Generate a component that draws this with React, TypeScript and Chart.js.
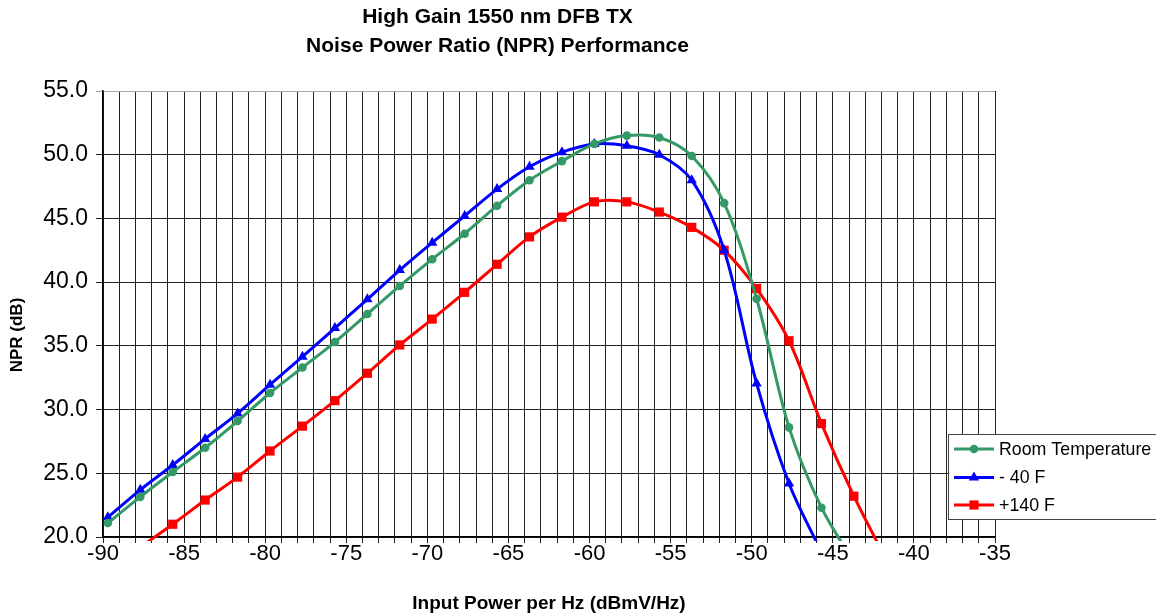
import React, { useEffect, useRef } from 'react';
import { Chart, registerables } from 'chart.js';

Chart.register(...registerables);

// ---- Data ----
const titleLines = ['High Gain 1550 nm DFB TX', 'Noise Power Ratio (NPR) Performance'];
const xAxisTitle = 'Input Power per Hz (dBmV/Hz)';
const yAxisTitle = 'NPR (dB)';
const seriesNames = ['Room Temperature', '- 40 F', '+140 F'];

const inputPower = [
  -89.7, -87.7, -85.7, -83.7, -81.7, -79.7, -77.7, -75.7, -73.7, -71.7, -69.7, -67.7, -65.7,
  -63.7, -61.7, -59.7, -57.7, -55.7, -53.7, -51.7, -49.7, -47.7, -45.7, -43.7, -41.7,
];
const roomTemp = [
  21.1, 23.15, 25.1, 27.0, 29.1, 31.3, 33.3, 35.3, 37.5, 39.7, 41.8, 43.8, 46.0,
  48.0, 49.5, 50.85, 51.5, 51.35, 49.9, 46.2, 38.7, 28.6, 22.3, 18.0, null,
];
const minus40F = [
  21.55, 23.7, 25.65, 27.7, 29.7, 31.95, 34.15, 36.4, 38.65, 40.95, 43.1, 45.2, 47.3,
  49.05, 50.2, 50.85, 50.7, 50.0, 48.0, 42.5, 32.05, 24.2, 18.8, null, null,
];
const plus140F = [
  null, 19.2, 21.0, 22.9, 24.7, 26.75, 28.7, 30.7, 32.85, 35.07, 37.1, 39.2, 41.4,
  43.55, 45.1, 46.3, 46.3, 45.5, 44.3, 42.5, 39.5, 35.4, 28.9, 23.2, 18.2,
];

const xMin = -90;
const xMax = -35;
const xGridStep = 1;
const xLabelEvery = 5;
const yMin = 20;
const yMax = 55;
const yStep = 5;

const FONT = '"Liberation Sans", Arial, Helvetica, sans-serif';

function toPoints(values: (number | null)[]) {
  const pts: { x: number; y: number }[] = [];
  values.forEach((v, i) => {
    if (v !== null) pts.push({ x: inputPower[i], y: v });
  });
  return pts;
}

function drawMarker(ctx: CanvasRenderingContext2D, style: string, x: number, y: number, r: number, color: string) {
  ctx.fillStyle = color;
  ctx.beginPath();
  if (style === 'circle') {
    ctx.arc(x, y, r, 0, Math.PI * 2);
  } else if (style === 'triangle') {
    let rad = 0;
    ctx.moveTo(x + Math.sin(rad) * r, y - Math.cos(rad) * r);
    rad += (2 * Math.PI) / 3;
    ctx.lineTo(x + Math.sin(rad) * r, y - Math.cos(rad) * r);
    rad += (2 * Math.PI) / 3;
    ctx.lineTo(x + Math.sin(rad) * r, y - Math.cos(rad) * r);
    ctx.closePath();
  } else {
    const s = r * Math.SQRT1_2;
    ctx.rect(x - s, y - s, 2 * s, 2 * s);
  }
  ctx.fill();
}

// Y axis title, placed as in the reference (slightly below the plot centre)
const yTitlePlugin = {
  id: 'yTitle',
  afterDraw(chart: any) {
    const ctx: CanvasRenderingContext2D = chart.ctx;
    const area = chart.chartArea;
    ctx.save();
    ctx.translate(17, (area.top + area.bottom) / 2 + 21);
    ctx.rotate(-Math.PI / 2);
    ctx.font = `bold 17px ${FONT}`;
    ctx.fillStyle = '#000000';
    ctx.textAlign = 'center';
    ctx.textBaseline = 'middle';
    ctx.fillText(yAxisTitle, 0, 0);
    ctx.restore();
  },
};

const boxLegend = {
  id: 'boxLegend',
  afterDraw(chart: any) {
    const ctx: CanvasRenderingContext2D = chart.ctx;
    const area = chart.chartArea;
    ctx.save();
    const bx = Math.round(area.right - 47) + 0.5;
    const by = 434.5;
    const bw = 230;
    const bh = 85;
    ctx.fillStyle = '#ffffff';
    ctx.fillRect(bx, by, bw, bh);
    ctx.strokeStyle = '#444444';
    ctx.lineWidth = 1;
    ctx.strokeRect(bx, by, bw, bh);
    const rowY = [449, 477.5, 505];
    chart.data.datasets.forEach((ds: any, i: number) => {
      const y = rowY[i];
      ctx.strokeStyle = ds.borderColor;
      ctx.lineWidth = 3;
      ctx.beginPath();
      ctx.moveTo(bx + 5.5, y);
      ctx.lineTo(bx + 45.5, y);
      ctx.stroke();
      drawMarker(ctx, ds.pointStyle, bx + 25.5, y, ds.pointRadius, ds.pointBackgroundColor);
      ctx.fillStyle = '#000000';
      ctx.font = `17.8px ${FONT}`;
      ctx.textBaseline = 'middle';
      ctx.textAlign = 'left';
      ctx.fillText(ds.label, bx + 50.5, y + 1);
    });
    ctx.restore();
  },
};

export default function App() {
  const canvasRef = useRef<HTMLCanvasElement | null>(null);

  useEffect(() => {
    const canvas = canvasRef.current;
    if (!canvas) return;
    Chart.defaults.font.family = FONT;
    Chart.defaults.color = '#000000';

    const mk = (label: string, values: (number | null)[], color: string, style: string, radius: number) => ({
      label,
      data: toPoints(values),
      borderColor: color,
      backgroundColor: color,
      pointBackgroundColor: color,
      pointBorderColor: color,
      pointBorderWidth: 0,
      pointStyle: style,
      pointRadius: radius,
      borderWidth: 3,
      tension: 0.33,
      clip: 4,
    });

    const chart = new Chart(canvas, {
      type: 'line',
      data: {
        datasets: [
          mk(seriesNames[0], roomTemp, '#339966', 'circle', 4.3),
          mk(seriesNames[1], minus40F, '#0000ff', 'triangle', 6),
          mk(seriesNames[2], plus140F, '#ff0000', 'rect', 6.5),
        ],
      },
      options: {
        responsive: false,
        animation: false,
        layout: { padding: { left: 0, top: 0, right: 161, bottom: 0 } },
        plugins: {
          legend: { display: false },
          tooltip: { enabled: false },
          title: {
            display: true,
            text: titleLines,
            font: { family: FONT, size: 21, weight: 'bold', lineHeight: 29 / 21 },
            color: '#000000',
            padding: { top: 3, bottom: 30 },
          },
        },
        scales: {
          x: {
            type: 'linear',
            min: xMin,
            max: xMax,
            afterFit: (scale: any) => {
              scale.height = 79;
            },
            ticks: {
              stepSize: xGridStep,
              autoSkip: false,
              maxRotation: 0,
              maxTicksLimit: 200,
              padding: 0,
              font: { family: FONT, size: 22, lineHeight: 1 },
              color: '#000000',
              callback: (v: any) => (Math.round(v) % xLabelEvery === 0 ? String(Math.round(v)) : ''),
            },
            grid: { color: '#222222', lineWidth: 1, tickLength: 6 },
            border: { color: '#000000', width: 1.5 },
            title: {
              display: true,
              text: xAxisTitle,
              font: { family: FONT, size: 19, weight: 'bold' },
              color: '#000000',
              padding: { top: 0, bottom: 1 },
            },
          },
          y: {
            type: 'linear',
            min: yMin,
            max: yMax,
            afterFit: (scale: any) => {
              scale.width = 103;
            },
            ticks: {
              stepSize: yStep,
              padding: 8,
              font: { family: FONT, size: 23 },
              color: '#000000',
              callback: (v: any) => Number(v).toFixed(1),
            },
            grid: {
              color: (c: any) => (c.tick && c.tick.value === yMax ? '#aaaaaa' : '#222222'),
              lineWidth: 1,
              tickLength: 7,
            },
            border: { color: '#000000', width: 1.5 },
            title: { display: false },
          },
        },
      },
      plugins: [yTitlePlugin, boxLegend],
    } as any);

    return () => {
      chart.destroy();
    };
  }, []);

  return (
    <div style={{ position: 'absolute', left: 0, top: 0, width: 1156, height: 616, background: '#ffffff' }}>
      <canvas ref={canvasRef} width={1156} height={616} style={{ display: 'block' }} />
    </div>
  );
}
